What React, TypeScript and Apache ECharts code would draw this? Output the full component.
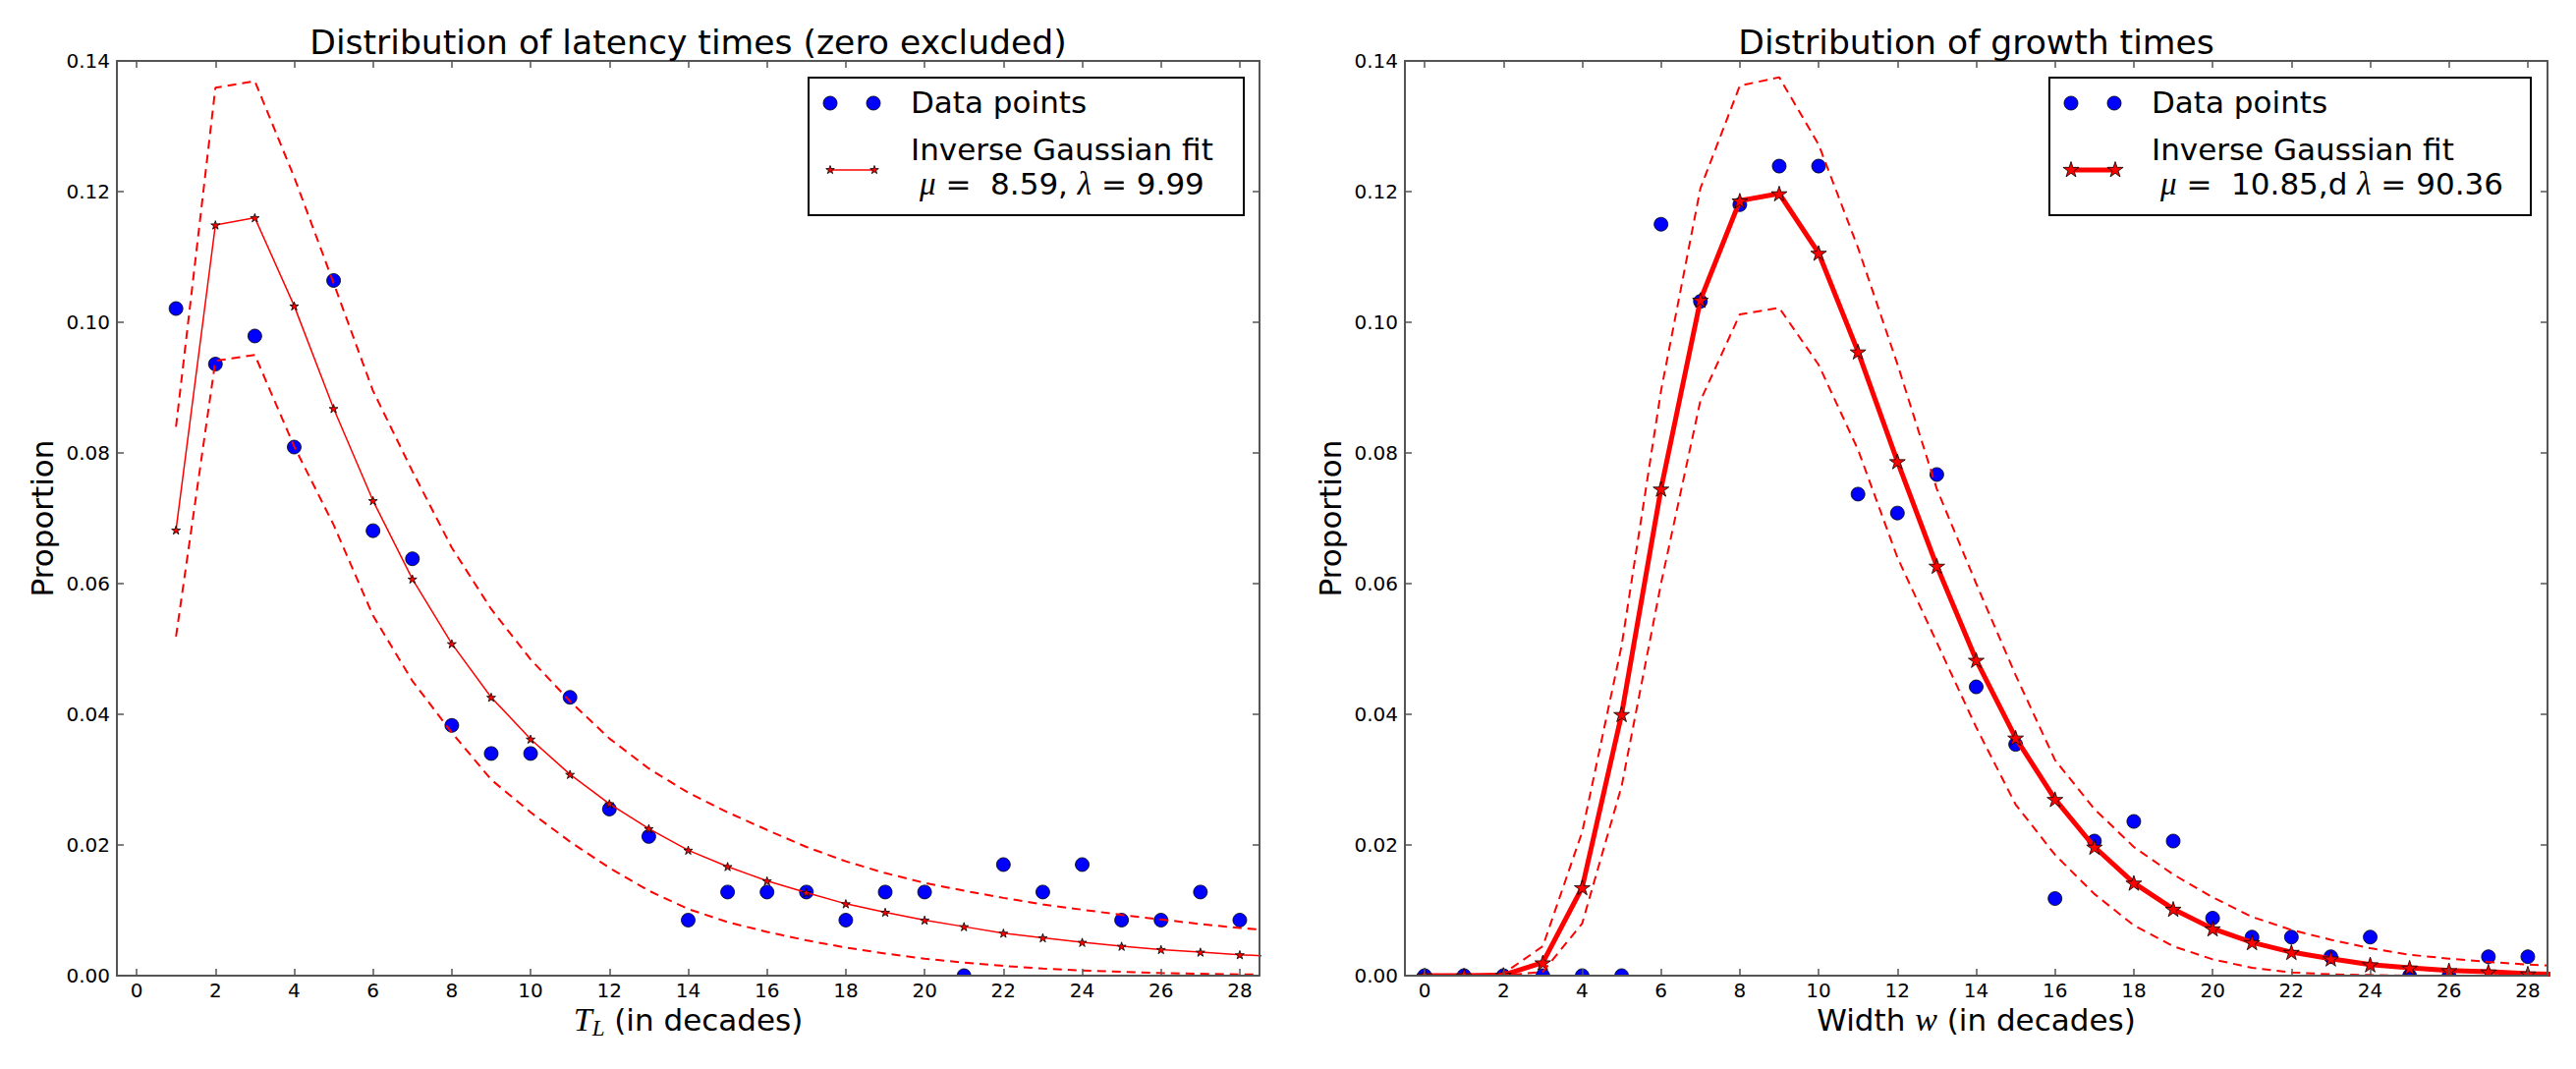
import React, { useEffect, useRef } from "react";
import * as echarts from "echarts";

// ---------- data ----------
const xTicks = [0, 2, 4, 6, 8, 10, 12, 14, 16, 18, 20, 22, 24, 26, 28];

// Left panel: latency times (zero excluded)
const latencyX = [1, 2, 3, 4, 5, 6, 7, 8, 9, 10, 11, 12, 13, 14, 15, 16, 17, 18, 19, 20, 21, 22, 23, 24, 25, 26, 27, 28];
const latencyData = [0.1021, 0.0936, 0.0979, 0.0809, 0.1064, 0.0681, 0.0638, 0.0383, 0.034, 0.034, 0.0426, 0.0255, 0.0213, 0.0085, 0.0128, 0.0128, 0.0128, 0.0085, 0.0128, 0.0128, 0.0, 0.017, 0.0128, 0.017, 0.0085, 0.0085, 0.0128, 0.0085];
const latencyFitX = [1, 2, 3, 4, 5, 6, 7, 8, 9, 10, 11, 12, 13, 14, 15, 16, 17, 18, 19, 20, 21, 22, 23, 24, 25, 26, 27, 28, 29];
const latencyFit = [0.0682, 0.1149, 0.116, 0.1025, 0.0868, 0.0727, 0.0607, 0.0508, 0.0426, 0.0362, 0.0308, 0.0263, 0.0225, 0.0192, 0.0167, 0.0145, 0.0127, 0.011, 0.0097, 0.0085, 0.0075, 0.0065, 0.0058, 0.0051, 0.0045, 0.004, 0.0036, 0.0032, 0.0029];
const latencyUpper = [0.084, 0.1359, 0.1369, 0.1222, 0.106, 0.0895, 0.0772, 0.0655, 0.0561, 0.0484, 0.042, 0.0363, 0.0317, 0.028, 0.025, 0.0223, 0.0197, 0.0175, 0.0157, 0.0142, 0.013, 0.0119, 0.0109, 0.0101, 0.0093, 0.0086, 0.0079, 0.0073, 0.0068];
const latencyLower = [0.0519, 0.0941, 0.095, 0.081, 0.069, 0.0551, 0.0451, 0.0372, 0.03, 0.025, 0.0205, 0.0165, 0.013, 0.0102, 0.0082, 0.0067, 0.0054, 0.0043, 0.0034, 0.0026, 0.002, 0.0015, 0.0011, 0.0008, 0.0006, 0.0004, 0.0003, 0.0002, 0.0002];

// Right panel: growth times
const growthX = [0, 1, 2, 3, 4, 5, 6, 7, 8, 9, 10, 11, 12, 13, 14, 15, 16, 17, 18, 19, 20, 21, 22, 23, 24, 25, 26, 27, 28];
const growthData = [0, 0, 0, 0, 0, 0, 0.115, 0.1032, 0.118, 0.1239, 0.1239, 0.0737, 0.0708, 0.0767, 0.0442, 0.0354, 0.0118, 0.0206, 0.0236, 0.0206, 0.0088, 0.0059, 0.0059, 0.0029, 0.0059, 0, 0, 0.0029, 0.0029];
const growthFitX = [0, 1, 2, 3, 4, 5, 6, 7, 8, 9, 10, 11, 12, 13, 14, 15, 16, 17, 18, 19, 20, 21, 22, 23, 24, 25, 26, 27, 28, 29];
const growthFit = [0, 0, 0.0001, 0.002, 0.0135, 0.04, 0.0745, 0.1034, 0.1186, 0.1197, 0.1106, 0.0955, 0.0787, 0.0627, 0.0483, 0.0364, 0.027, 0.0197, 0.0142, 0.0102, 0.0072, 0.0051, 0.0036, 0.0026, 0.0017, 0.0012, 0.0008, 0.0006, 0.0003, 0.0002];
const growthUpper = [0, 0, 0.0003, 0.0045, 0.022, 0.0505, 0.0895, 0.1205, 0.1362, 0.1375, 0.1272, 0.1114, 0.0936, 0.0745, 0.06, 0.046, 0.033, 0.0255, 0.0197, 0.0155, 0.012, 0.009, 0.007, 0.0055, 0.0042, 0.0032, 0.0026, 0.0021, 0.0017, 0.0014];
const growthLower = [0, 0, 0, 0.0006, 0.008, 0.029, 0.06, 0.088, 0.1012, 0.1022, 0.0935, 0.0805, 0.064, 0.051, 0.038, 0.0262, 0.0185, 0.0125, 0.0077, 0.0045, 0.0025, 0.0012, 0.0005, 0.0002, 0.0001, 0, 0, 0, 0, 0];

const titles = ["Distribution of latency times (zero excluded)", "Distribution of growth times"];
const legendParams = ["{m|μ} =  8.59, {m|λ} = 9.99", "{m|μ} =  10.85,d {m|λ} = 90.36"];

// ---------- styling ----------
const SANS = "DejaVu Sans";
const SERIF = "Liberation Serif";
const SPINE = "#555";
const STAR = "path://M0,-10L2.245,-3.09L9.511,-3.09L3.633,1.18L5.878,8.09L0,3.82L-5.878,8.09L-3.633,1.18L-9.511,-3.09L-2.245,-3.09Z";

const GRIDS = [
  { left: 119, top: 62, width: 1163, height: 931 },
  { left: 1430, top: 62, width: 1163, height: 931 },
];

const pairs = (xs: number[], ys: number[]) => xs.map((x, i) => [x, ys[i]]);

function starPoints(cx: number, cy: number, R: number) {
  const pts: number[][] = [];
  const r = R * 0.382;
  for (let k = 0; k < 10; k++) {
    const a = -Math.PI / 2 + (k * Math.PI) / 5;
    const rr = k % 2 === 0 ? R : r;
    pts.push([cx + rr * Math.cos(a), cy + rr * Math.sin(a)]);
  }
  return pts;
}

function makeXAxis(gridIndex: number, position: "bottom" | "top") {
  return {
    type: "value",
    gridIndex,
    position,
    min: -0.5,
    max: 28.5,
    z: 10,
    axisLine: { show: true, onZero: false, lineStyle: { color: SPINE, width: 2 } },
    axisTick: { show: true, inside: true, length: 7, customValues: xTicks, lineStyle: { color: SPINE, width: 1.5 } },
    axisLabel: {
      show: position === "bottom",
      customValues: xTicks,
      fontFamily: SANS,
      fontSize: 20,
      color: "#000",
      margin: 5,
    },
    splitLine: { show: false },
  };
}

function makeYAxis(gridIndex: number, position: "left" | "right") {
  return {
    type: "value",
    gridIndex,
    position,
    min: 0,
    max: 0.14,
    interval: 0.02,
    z: 10,
    axisLine: { show: true, onZero: false, lineStyle: { color: SPINE, width: 2 } },
    axisTick: { show: true, inside: true, length: 7, lineStyle: { color: SPINE, width: 1.5 } },
    axisLabel: {
      show: position === "left",
      formatter: (v: number) => v.toFixed(2),
      fontFamily: SANS,
      fontSize: 20,
      color: "#000",
      margin: 7,
    },
    splitLine: { show: false },
  };
}

function panelSeries(
  gi: number,
  dx: number[],
  dy: number[],
  fx: number[],
  fit: number[],
  upper: number[],
  lower: number[],
  fitWidth: number,
  starSize: number
) {
  const axes = { xAxisIndex: gi * 2, yAxisIndex: gi * 2 };
  return [
    {
      type: "scatter",
      ...axes,
      data: pairs(dx, dy),
      symbol: "circle",
      symbolSize: 14,
      itemStyle: { color: "#0000ff", borderColor: "#000", borderWidth: 0.8, opacity: 1 },
      silent: true,
      z: 2,
    },
    {
      type: "line",
      ...axes,
      data: pairs(fx, fit),
      symbol: STAR,
      symbolSize: starSize,
      symbolKeepAspect: true,
      showAllSymbol: true,
      lineStyle: { color: "#ff0000", width: fitWidth },
      itemStyle: { color: "#ff0000", borderColor: "#000", borderWidth: 0.8 },
      silent: true,
      z: 3,
    },
    {
      type: "line",
      ...axes,
      data: pairs(fx, upper),
      symbol: "none",
      lineStyle: { color: "#ff0000", width: 2, type: [9, 6] },
      silent: true,
      z: 4,
    },
    {
      type: "line",
      ...axes,
      data: pairs(fx, lower),
      symbol: "none",
      lineStyle: { color: "#ff0000", width: 2, type: [9, 6] },
      silent: true,
      z: 4,
    },
  ];
}

function legendGraphics(boxX: number, boxW: number, paramsText: string, lineW: number, starR: number) {
  const els: any[] = [
    {
      type: "rect",
      shape: { x: boxX, y: 79, width: boxW, height: 140 },
      style: { fill: "#fff", stroke: "#000", lineWidth: 2 },
      z: 20,
    },
    { type: "circle", shape: { cx: boxX + 22, cy: 105, r: 7 }, style: { fill: "#0000ff", stroke: "#000", lineWidth: 0.8 }, z: 21 },
    { type: "circle", shape: { cx: boxX + 66, cy: 105, r: 7 }, style: { fill: "#0000ff", stroke: "#000", lineWidth: 0.8 }, z: 21 },
    {
      type: "text",
      x: boxX + 104,
      y: 104,
      style: { text: "Data points", fontFamily: SANS, fontSize: 31, fill: "#000", align: "left", verticalAlign: "middle" },
      z: 21,
    },
    {
      type: "line",
      shape: { x1: boxX + 22, y1: 173, x2: boxX + 67, y2: 173 },
      style: { stroke: "#ff0000", lineWidth: lineW },
      z: 21,
    },
    { type: "polygon", shape: { points: starPoints(boxX + 22, 173, starR) }, style: { fill: "#ff0000", stroke: "#000", lineWidth: 0.8 }, z: 22 },
    { type: "polygon", shape: { points: starPoints(boxX + 67, 173, starR) }, style: { fill: "#ff0000", stroke: "#000", lineWidth: 0.8 }, z: 22 },
    {
      type: "text",
      x: boxX + 104,
      y: 151.5,
      style: { text: "Inverse Gaussian fit", fontFamily: SANS, fontSize: 31, fill: "#000", align: "left", verticalAlign: "middle" },
      z: 21,
    },
    {
      type: "text",
      x: boxX + 113,
      y: 186.5,
      style: {
        text: paramsText,
        fontFamily: SANS,
        fontSize: 31,
        fill: "#000",
        align: "left",
        verticalAlign: "middle",
        rich: {
          m: { fontFamily: SERIF, fontStyle: "italic", fontSize: 33, fill: "#000" },
        },
      },
      z: 21,
    },
  ];
  return els;
}

export default function App() {
  const ref = useRef<HTMLDivElement>(null);

  useEffect(() => {
    document.body.style.margin = "0";
    document.body.style.overflow = "hidden";
    if (!ref.current) return;
    const chart = echarts.init(ref.current, null, { renderer: "svg", width: 2622, height: 1088 });

    const graphic: any[] = [];
    // white masks below plot areas (markers are clipped at the axes in the original)
    GRIDS.forEach((g) => {
      graphic.push({
        type: "rect",
        shape: { x: g.left, y: g.top + g.height + 1, width: g.width, height: 7 },
        style: { fill: "#fff" },
        z: 5,
        silent: true,
      });
    });
    // titles
    GRIDS.forEach((g, i) => {
      graphic.push({
        type: "text",
        x: g.left + g.width / 2,
        y: 43,
        style: { text: titles[i], fontFamily: SANS, fontSize: 34.6, fill: "#000", align: "center", verticalAlign: "middle" },
        z: 21,
      });
      graphic.push({
        type: "text",
        x: g.left - 76,
        y: g.top + g.height / 2,
        rotation: Math.PI / 2,
        style: { text: "Proportion", fontFamily: SANS, fontSize: 31, fill: "#000", align: "center", verticalAlign: "middle" },
        z: 21,
      });
    });
    const xNames = ["{it|T}{sub|L}{n| (in decades)}", "{n|Width }{it|w}{n| (in decades)}"];
    GRIDS.forEach((g, i) => {
      graphic.push({
        type: "text",
        x: g.left + g.width / 2,
        y: 1037.5,
        style: {
          text: xNames[i],
          fontFamily: SANS,
          fontSize: 31,
          fill: "#000",
          align: "center",
          verticalAlign: "middle",
          rich: {
            n: { fontFamily: SANS, fontSize: 31, lineHeight: 40, fill: "#000" },
            it: { fontFamily: SERIF, fontStyle: "italic", fontSize: 34, lineHeight: 40, fill: "#000" },
            sub: { fontFamily: SERIF, fontStyle: "italic", fontSize: 23, lineHeight: 23, verticalAlign: "bottom", fill: "#000" },
          },
        },
        z: 21,
      });
    });
    graphic.push(...legendGraphics(823, 443, legendParams[0], 1.5, 4.5));
    graphic.push(...legendGraphics(2086, 490, legendParams[1], 5, 8.5));

    chart.setOption({
      animation: false,
      backgroundColor: "#fff",
      grid: GRIDS.map((g) => ({ ...g, containLabel: false })),
      xAxis: [makeXAxis(0, "bottom"), makeXAxis(0, "top"), makeXAxis(1, "bottom"), makeXAxis(1, "top")],
      yAxis: [makeYAxis(0, "left"), makeYAxis(0, "right"), makeYAxis(1, "left"), makeYAxis(1, "right")],
      series: [
        ...panelSeries(0, latencyX, latencyData, latencyFitX, latencyFit, latencyUpper, latencyLower, 1.5, 9),
        ...panelSeries(1, growthX, growthData, growthFitX, growthFit, growthUpper, growthLower, 5, 16),
      ],
      graphic,
    });

    return () => chart.dispose();
  }, []);

  return <div ref={ref} style={{ width: 2622, height: 1088 }} />;
}
